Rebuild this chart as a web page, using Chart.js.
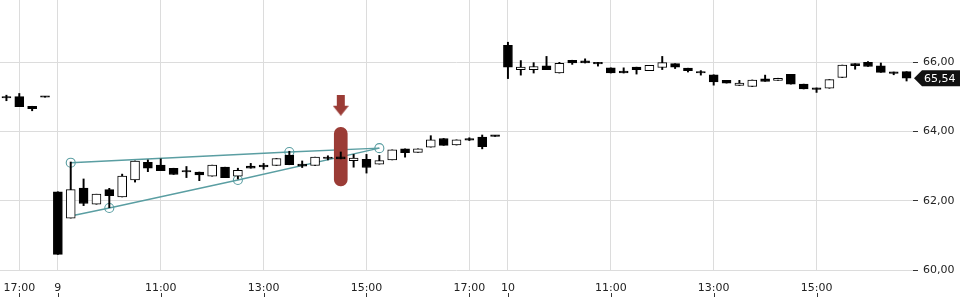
<!DOCTYPE html>
<html>
<head>
<meta charset="utf-8">
<script src="https://cdn.jsdelivr.net/npm/chart.js@4/dist/chart.umd.min.js"></script>
<style>
  html, body { margin: 0; padding: 0; background: #fff; }
  #wrap { width: 960px; height: 300px; }
</style>
</head>
<body>
<div id="wrap"><canvas id="chart"></canvas></div>
<script>
// 15-minute candles, day 8 close, day 9 and day 10
const times = [
  '8 16:45', '8 17:00', '8 17:15', '8 17:30',
  '9 09:00', '9 09:15', '9 09:30', '9 09:45', '9 10:00', '9 10:15', '9 10:30', '9 10:45',
  '9 11:00', '9 11:15', '9 11:30', '9 11:45', '9 12:00', '9 12:15', '9 12:30', '9 12:45',
  '9 13:00', '9 13:15', '9 13:30', '9 13:45', '9 14:00', '9 14:15', '9 14:30', '9 14:45',
  '9 15:00', '9 15:15', '9 15:30', '9 15:45', '9 16:00', '9 16:15', '9 16:30', '9 16:45',
  '9 17:00', '9 17:15', '9 17:30',
  '10 09:00', '10 09:15', '10 09:30', '10 09:45', '10 10:00', '10 10:15', '10 10:30', '10 10:45',
  '10 11:00', '10 11:15', '10 11:30', '10 11:45', '10 12:00', '10 12:15', '10 12:30', '10 12:45',
  '10 13:00', '10 13:15', '10 13:30', '10 13:45', '10 14:00', '10 14:15', '10 14:30', '10 14:45',
  '10 15:00', '10 15:15', '10 15:30', '10 15:45', '10 16:00', '10 16:15', '10 16:30', '10 16:45'
];

const open = [
  64.97, 65.01, 64.73, 64.99,
  62.26, 61.50, 62.37, 61.90, 62.32, 62.11, 62.60, 63.11,
  63.03, 62.94, 62.83, 62.83, 62.71, 62.97, 62.71, 63.00,
  63.03, 63.02, 63.32, 63.06, 63.02, 63.26, 63.27, 63.16,
  63.20, 63.06, 63.18, 63.50, 63.40, 63.55, 63.80, 63.61,
  63.80, 63.84, 63.86,
  66.49, 65.79, 65.79, 65.90, 65.69, 66.06, 66.04, 66.00,
  65.84, 65.75, 65.86, 65.76, 65.85, 65.96, 65.83, 65.69,
  65.64, 65.48, 65.33, 65.30, 65.52, 65.48, 65.65, 65.37,
  65.26, 65.25, 65.56, 65.96, 66.00, 65.90, 65.68, 65.73
];
const high = [
  65.05, 65.10, 64.73, 64.99,
  62.26, 63.12, 62.63, 62.19, 62.36, 62.77, 63.15, 63.18,
  63.21, 62.94, 62.99, 62.83, 63.03, 62.97, 62.94, 63.08,
  63.08, 63.22, 63.43, 63.15, 63.26, 63.30, 63.41, 63.34,
  63.34, 63.31, 63.47, 63.50, 63.50, 63.88, 63.80, 63.76,
  63.82, 63.90, 63.86,
  66.58, 66.05, 65.99, 66.17, 66.00, 66.06, 66.10, 66.00,
  65.84, 65.84, 65.86, 65.91, 66.17, 65.96, 65.83, 65.76,
  65.64, 65.48, 65.48, 65.49, 65.63, 65.54, 65.65, 65.37,
  65.26, 65.50, 65.92, 65.96, 66.02, 65.98, 65.72, 65.73
];
const low = [
  64.89, 64.72, 64.60, 64.99,
  60.45, 61.50, 61.86, 61.90, 61.80, 62.11, 62.54, 62.84,
  62.87, 62.76, 62.67, 62.58, 62.71, 62.67, 62.63, 62.94,
  62.91, 63.02, 63.04, 62.96, 63.02, 63.18, 63.21, 62.97,
  62.80, 63.06, 63.18, 63.26, 63.40, 63.55, 63.60, 63.61,
  63.74, 63.50, 63.86,
  65.53, 65.63, 65.69, 65.79, 65.69, 65.94, 65.98, 65.89,
  65.69, 65.69, 65.66, 65.76, 65.79, 65.82, 65.72, 65.63,
  65.34, 65.40, 65.33, 65.30, 65.45, 65.48, 65.37, 65.23,
  65.13, 65.25, 65.56, 65.80, 65.88, 65.71, 65.64, 65.46
];
const close = [
  64.97, 64.72, 64.66, 64.99,
  60.45, 62.32, 61.92, 62.19, 62.15, 62.71, 63.15, 62.94,
  62.87, 62.76, 62.83, 62.75, 63.03, 62.67, 62.88, 62.94,
  62.98, 63.22, 63.04, 63.00, 63.26, 63.22, 63.21, 63.23,
  62.96, 63.16, 63.47, 63.39, 63.50, 63.76, 63.60, 63.76,
  63.75, 63.56, 63.86,
  65.86, 65.86, 65.88, 65.79, 65.97, 65.98, 65.98, 65.95,
  65.69, 65.69, 65.79, 65.91, 65.99, 65.86, 65.76, 65.69,
  65.43, 65.40, 65.40, 65.49, 65.45, 65.54, 65.37, 65.23,
  65.22, 65.50, 65.92, 65.90, 65.88, 65.71, 65.68, 65.54
];

// drawn triangle: upper and lower trend lines (candle index -> price)
const upperLine = { 5: 63.10, 22: 63.41, 29: 63.52 };
const lowerLine = { 5: 61.56, 8: 61.79, 18: 62.60, 29: 63.52 };
const lowerCircles = [8, 18];

// signal marker
const signalIndex = 26;
const signalRange = [62.43, 64.12];
const arrowPrice = 64.76;

const yTicks = [60, 62, 64, 66];

const RED = '#9b3c36';
const TEAL = '#5a9ea2';
const FONT = { family: 'DejaVu Sans', size: 11 };

function fmt(v) {
  return v.toFixed(2).replace('.', ',');
}

function sparse(points) {
  return times.map((t, i) => (points[i] !== undefined ? points[i] : null));
}

// arrow image used as point style
const arrowImg = document.createElement('canvas');
arrowImg.width = 16;
arrowImg.height = 21;
(function () {
  const c = arrowImg.getContext('2d');
  c.fillStyle = RED;
  c.beginPath();
  c.moveTo(4, 0);
  c.lineTo(12, 0);
  c.lineTo(12, 11);
  c.lineTo(16, 11);
  c.lineTo(8, 21);
  c.lineTo(0, 11);
  c.lineTo(4, 11);
  c.closePath();
  c.fill();
})();

const candleBodies = times.map((t, i) => [open[i], close[i]]);
const candleWicks = times.map((t, i) => [low[i], high[i]]);
const bodyColors = times.map((t, i) => (close[i] > open[i] ? '#ffffff' : '#000000'));

const signalData = times.map((t, i) => (i === signalIndex ? signalRange : null));
const arrowData = times.map((t, i) => (i === signalIndex ? arrowPrice : null));

function tickText(label) {
  const parts = label.split(' ');
  const day = parts[0];
  const time = parts[1];
  if (time === '09:00') return day;
  const h = parseInt(time, 10);
  if (time.endsWith(':00') && h % 2 === 1) return time;
  return '';
}

// last price tag + tick marks below x labels
const extras = {
  id: 'extras',
  afterDraw(chart) {
    const ctx = chart.ctx;
    const x = chart.scales.x;
    const y = chart.scales.y;
    const area = chart.chartArea;

    ctx.save();
    ctx.strokeStyle = '#333';
    ctx.lineWidth = 1;
    x.ticks.forEach((tick, i) => {
      if (!tickText(times[i])) return;
      const px = Math.round(x.getPixelForTick(i)) + 0.5;
      ctx.beginPath();
      ctx.moveTo(px, x.top + 23);
      ctx.lineTo(px, x.top + 27);
      ctx.stroke();
    });

    const last = close[close.length - 1];
    const py = y.getPixelForValue(last);
    const left = area.right + 1;
    ctx.fillStyle = '#111';
    ctx.beginPath();
    ctx.moveTo(left, py);
    ctx.lineTo(left + 8, py - 8);
    ctx.lineTo(chart.width, py - 8);
    ctx.lineTo(chart.width, py + 8);
    ctx.lineTo(left + 8, py + 8);
    ctx.closePath();
    ctx.fill();
    ctx.fillStyle = '#fff';
    ctx.font = '11px "DejaVu Sans"';
    ctx.textBaseline = 'middle';
    ctx.textAlign = 'left';
    ctx.fillText(fmt(last), left + 10, py + 0.5);
    ctx.restore();
  }
};

new Chart(document.getElementById('chart'), {
  type: 'bar',
  data: {
    labels: times,
    datasets: [
      {
        label: 'bodies',
        data: candleBodies,
        backgroundColor: bodyColors,
        borderColor: '#000',
        borderWidth: 1,
        borderSkipped: false,
        barThickness: 9,
        minBarLength: 1.5,
        grouped: false,
        order: 1
      },
      {
        label: 'wicks',
        data: candleWicks,
        backgroundColor: '#000',
        borderWidth: 0,
        barThickness: 1.3,
        minBarLength: 1,
        grouped: false,
        order: 2
      },
      {
        label: 'signal',
        data: signalData,
        backgroundColor: RED,
        borderWidth: 0,
        borderRadius: 7,
        borderSkipped: false,
        barThickness: 13,
        grouped: false,
        order: 3
      },
      {
        type: 'line',
        label: 'arrow',
        data: arrowData,
        showLine: false,
        pointStyle: arrowImg,
        order: 0
      },
      {
        type: 'line',
        label: 'upper',
        data: sparse(upperLine),
        spanGaps: true,
        borderColor: TEAL,
        borderWidth: 1.4,
        pointRadius: 4.5,
        pointBorderColor: TEAL,
        pointBorderWidth: 1.1,
        pointBackgroundColor: 'rgba(255,255,255,0)',
        order: 4
      },
      {
        type: 'line',
        label: 'lower',
        data: sparse(lowerLine),
        spanGaps: true,
        borderColor: TEAL,
        borderWidth: 1.4,
        pointRadius: times.map((t, i) => (lowerCircles.includes(i) ? 4.5 : 0)),
        pointBorderColor: TEAL,
        pointBorderWidth: 1.1,
        pointBackgroundColor: 'rgba(255,255,255,0)',
        order: 4
      }
    ]
  },
  options: {
    responsive: true,
    maintainAspectRatio: false,
    animation: false,
    layout: { padding: 0, autoPadding: false },
    plugins: {
      legend: { display: false },
      tooltip: { enabled: false }
    },
    scales: {
      x: {
        offset: true,
        border: { display: false },
        grid: {
          offset: false,
          drawTicks: false,
          color: ctx => (ctx.tick && tickText(times[ctx.index]) ? '#dcdcdc' : 'rgba(0,0,0,0)')
        },
        ticks: {
          autoSkip: false,
          maxRotation: 0,
          padding: 12,
          color: '#222',
          font: FONT,
          callback: function (value) {
            return tickText(this.getLabelForValue(value));
          }
        },
        afterFit: scale => {
          scale.height = 30;
          scale.paddingLeft = 0;
          scale.paddingRight = 0;
        }
      },
      y: {
        position: 'right',
        min: 60,
        max: 67.8,
        border: { display: false },
        grid: {
          color: '#dcdcdc',
          tickColor: '#333',
          tickLength: 5
        },
        afterBuildTicks: scale => {
          scale.ticks = yTicks.map(v => ({ value: v }));
        },
        ticks: {
          padding: 5,
          color: '#222',
          font: FONT,
          callback: v => fmt(v)
        },
        afterFit: scale => {
          scale.width = 47;
          scale.paddingTop = 0;
          scale.paddingBottom = 0;
        }
      }
    }
  },
  plugins: [extras]
});
</script>
</body>
</html>
